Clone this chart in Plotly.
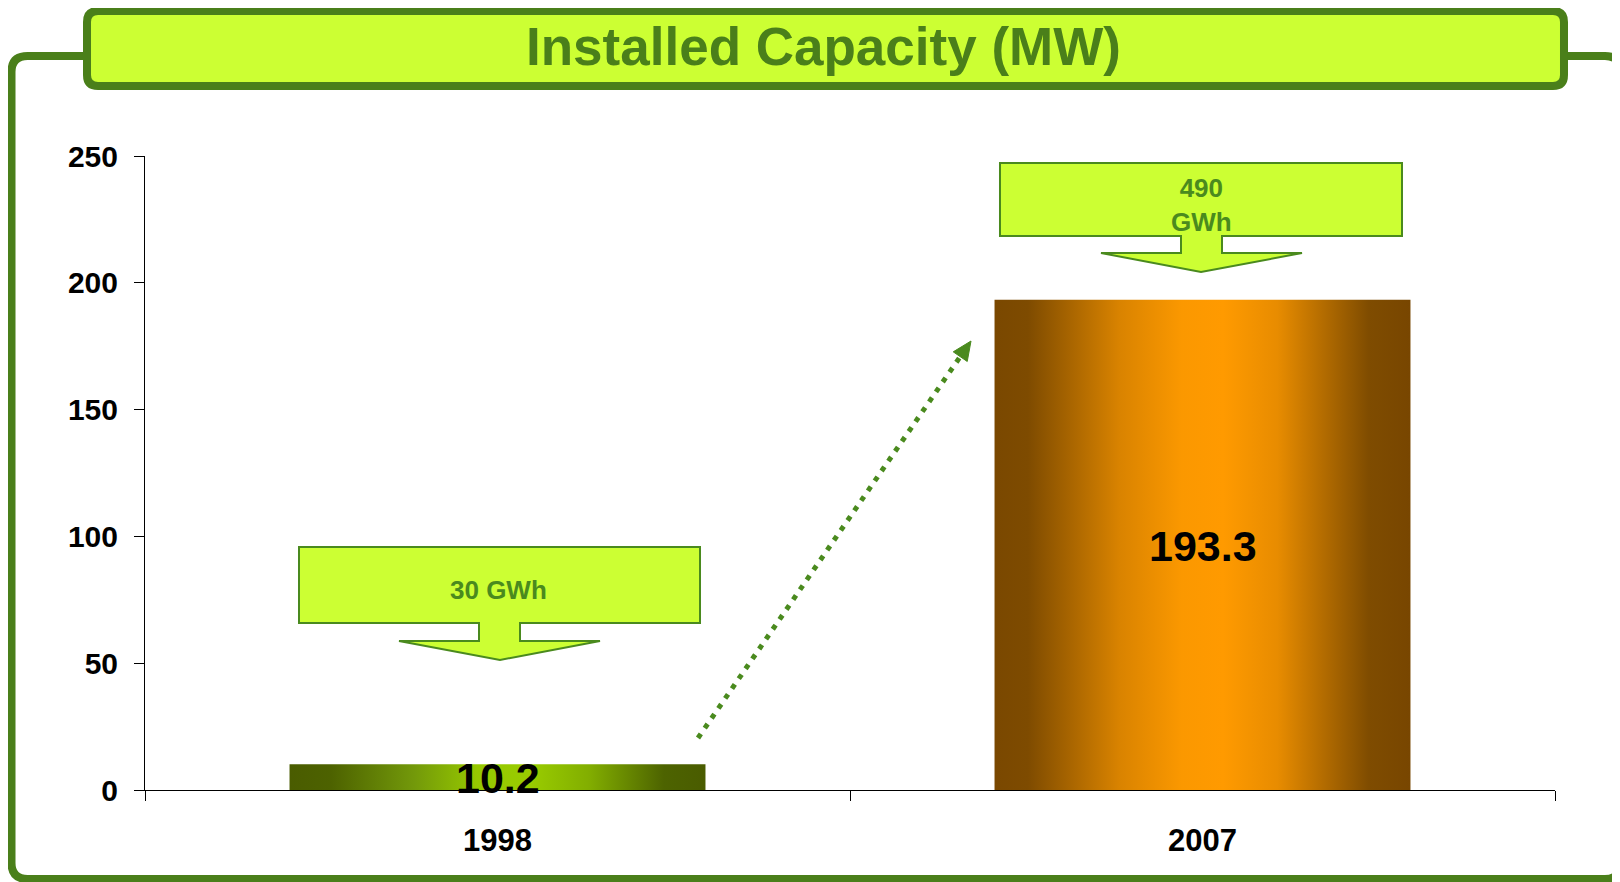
import plotly.graph_objects as go

# ---- data ----
categories = ["1998", "2007"]
capacity_mw = [10.2, 193.3]
energy_labels = ["30 GWh", "490<br>GWh"]
y_ticks = [0, 50, 100, 150, 200, 250]
title_text = "Installed Capacity (MW)"

# ---- styling ----
OFF = 8  # default page body margin
W, H = 1620 - OFF, 882 - OFF
L, R, T, B = 145 - OFF, 65, 156 - OFF, 92
PW, PH = W - L - R, H - T - B
GREEN_DARK = "#4a7f1a"
GREEN_DOT = "#4a8a1e"
LIME = "#ccff33"
FONT = "Liberation Sans, Arial, sans-serif"
BAR_WIDTH = 0.59
gradients = [
    [[0, "#4a5c00"], [0.1, "#4d6200"], [0.3, "#73990a"], [0.45, "#96c800"],
     [0.58, "#99cc00"], [0.72, "#82ae00"], [0.9, "#4d6300"], [1, "#4a5c00"]],
    [[0, "#7a4800"], [0.08, "#7e4b00"], [0.3, "#d98300"], [0.45, "#fb9800"],
     [0.55, "#ff9a00"], [0.68, "#e88c00"], [0.9, "#7f4c00"], [1, "#784600"]],
]


def px(x):
    return (x - OFF - L) / PW


def py(y):
    return (H - B - (y - OFF)) / PH


def path(points, close=True):
    s = "M " + " L ".join(f"{px(x):.5f},{py(y):.5f}" for x, y in points)
    return s + (" Z" if close else "")


def rounded_rect(x0, y0, x1, y1, r):
    def P(x, y):
        return f"{px(x):.5f},{py(y):.5f}"
    return (f"M {P(x0 + r, y0)} L {P(x1 - r, y0)} Q {P(x1, y0)} {P(x1, y0 + r)} "
            f"L {P(x1, y1 - r)} Q {P(x1, y1)} {P(x1 - r, y1)} "
            f"L {P(x0 + r, y1)} Q {P(x0, y1)} {P(x0, y1 - r)} "
            f"L {P(x0, y0 + r)} Q {P(x0, y0)} {P(x0 + r, y0)} Z")


fig = go.Figure()

# bars as gradient-filled polygons built from the data
for i, (cat, v) in enumerate(zip(categories, capacity_mw)):
    x0, x1 = i - BAR_WIDTH / 2, i + BAR_WIDTH / 2
    fig.add_trace(go.Scatter(
        x=[x0, x1, x1, x0, x0], y=[0, 0, v, v, 0],
        mode="lines", line=dict(width=0), fill="toself",
        fillgradient=dict(type="horizontal", colorscale=gradients[i]),
        hoverinfo="skip", showlegend=False,
    ))

shapes = []
# outer frame
shapes.append(dict(type="path", xref="paper", yref="paper",
                   path=rounded_rect(11.5, 56, 1621, 879, 16),
                   line=dict(color=GREEN_DARK, width=8), fillcolor="rgba(0,0,0,0)",
                   layer="below"))
# title box
shapes.append(dict(type="path", xref="paper", yref="paper",
                   path=rounded_rect(87, 11, 1564, 86, 11),
                   line=dict(color=GREEN_DARK, width=8), fillcolor=LIME))

# callout arrows
callouts = [
    dict(box=(299, 547, 700, 623), stem=(479, 520, 641), wings=(399, 600), tip=(500, 660)),
    dict(box=(1000, 163, 1402, 236), stem=(1181, 1222, 253), wings=(1101, 1302), tip=(1201, 272)),
]
for c in callouts:
    bx0, by0, bx1, by1 = c["box"]
    sx0, sx1, sy = c["stem"]
    wx0, wx1 = c["wings"]
    tx, ty = c["tip"]
    pts = [(bx0, by0), (bx1, by0), (bx1, by1), (sx1, by1), (sx1, sy), (wx1, sy),
           (tx, ty), (wx0, sy), (sx0, sy), (sx0, by1), (bx0, by1)]
    shapes.append(dict(type="path", xref="paper", yref="paper", path=path(pts),
                       line=dict(color=GREEN_DOT, width=2), fillcolor=LIME))

# dotted growth arrow
sx, sy_, ex, ey = 698, 738, 971, 341
dx, dy = ex - sx, ey - sy_
ln = (dx ** 2 + dy ** 2) ** 0.5
ux, uy = dx / ln, dy / ln
nx, ny = -uy, ux
hl, hw = 19, 8.5
bxc, byc = ex - hl * ux, ey - hl * uy
shapes.append(dict(type="line", xref="paper", yref="paper",
                   x0=px(sx), y0=py(sy_), x1=px(bxc + 2 * ux), y1=py(byc + 2 * uy),
                   line=dict(color=GREEN_DOT, width=5, dash="5px,7px")))
shapes.append(dict(type="path", xref="paper", yref="paper",
                   path=path([(ex, ey), (bxc + hw * nx, byc + hw * ny), (bxc - hw * nx, byc - hw * ny)]),
                   line=dict(color=GREEN_DOT, width=1), fillcolor=GREEN_DOT))

annotations = [
    dict(xref="paper", yref="paper", x=px(823), y=py(47), text=title_text,
         showarrow=False, xanchor="center", yanchor="middle",
         font=dict(family=FONT, size=53, color=GREEN_DARK, weight="bold")),
    dict(xref="paper", yref="paper", x=px(499), y=py(590), text=energy_labels[0],
         showarrow=False, xanchor="center", yanchor="middle",
         font=dict(family=FONT, size=26, color=GREEN_DOT, weight="bold")),
    dict(xref="paper", yref="paper", x=px(1201), y=py(205), text=energy_labels[1],
         showarrow=False, xanchor="center", yanchor="middle",
         font=dict(family=FONT, size=26, color=GREEN_DOT, weight="bold")),
]
# value labels in the middle of each bar (data coordinates)
for i, v in enumerate(capacity_mw):
    annotations.append(dict(xref="x", yref="y", x=i, y=v / 2, text=f"{v}",
                            showarrow=False, xanchor="center", yanchor="middle",
                            yshift=-1,
                            font=dict(family=FONT, size=43, color="black", weight="bold")))

fig.update_layout(
    width=W, height=H,
    margin=dict(l=L, r=R, t=T, b=B, pad=0),
    paper_bgcolor="white", plot_bgcolor="white",
    showlegend=False,
    shapes=shapes, annotations=annotations,
    xaxis=dict(range=[-0.5, len(categories) - 0.5], tickmode="array",
               tickvals=list(range(len(categories))), ticktext=categories,
               ticks="", showgrid=False, zeroline=False,
               showline=True, linecolor="black", linewidth=1,
               ticklabelstandoff=23,
               tickfont=dict(family=FONT, size=31, color="black", weight="bold"),
               minor=dict(tickmode="array",
                          tickvals=[i - 0.5 for i in range(len(categories) + 1)],
                          ticks="outside", ticklen=10, tickcolor="black", tickwidth=1,
                          showgrid=False),
               fixedrange=True),
    yaxis=dict(range=[0, 250], tickmode="array", tickvals=y_ticks,
               ticks="outside", ticklen=10, tickcolor="black", tickwidth=1,
               showgrid=False, zeroline=False,
               showline=True, linecolor="black", linewidth=1,
               ticklabelstandoff=10,
               tickfont=dict(family=FONT, size=30, color="black", weight="bold"),
               fixedrange=True),
)

fig.write_html("out.html", config={"displayModeBar": False})
